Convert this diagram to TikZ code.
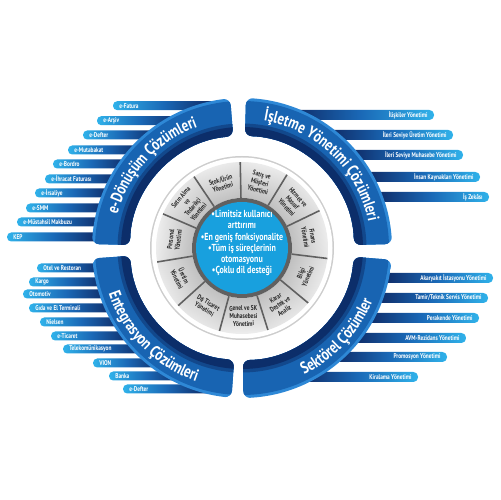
\documentclass[tikz,border=0pt]{standalone}
\usepackage{fontspec}
\setmainfont{PT Sans}[FakeStretch=0.78]
\usetikzlibrary{decorations.text}
\definecolor{barcyan}{RGB}{48,178,234}
\definecolor{barmid}{RGB}{26,104,182}
\definecolor{barnavy}{RGB}{14,38,96}
\definecolor{bandside}{RGB}{12,46,106}
\definecolor{bandmid}{RGB}{18,72,140}
\definecolor{bandface}{RGB}{24,100,178}
\definecolor{bandtop}{RGB}{46,136,214}
\definecolor{coreblue}{RGB}{24,160,222}
\definecolor{ringdark}{RGB}{96,96,96}
\definecolor{segtext}{RGB}{40,40,40}
\definecolor{seglight}{RGB}{240,240,240}
\definecolor{segdark}{RGB}{188,188,188}
\definecolor{rimgray}{RGB}{205,205,205}
\tikzset{
  lbar/.style={left color=barcyan, right color=barnavy, middle color=barmid, rounded corners=2.4pt},
  rbar/.style={left color=barnavy, right color=barcyan, middle color=barmid, rounded corners=2.6pt},
  bartext/.style={text=white, font=\bfseries\fontsize{3.9}{4}\selectfont, inner sep=0pt},
  segtxt/.style={text=segtext, font=\bfseries\fontsize{4}{4.4}\selectfont, align=center, inner sep=0pt},
  coretxt/.style={text=white, font=\bfseries\fontsize{5.8}{6.3}\selectfont, align=center, inner sep=0pt},
  bandtxt/.style={decorate, decoration={text along path, text align=center, text color=white, text={|\bfseries\fontsize{9.5}{10}\selectfont|#1}}},
  segfill/.style={top color=seglight, bottom color=segdark},
  sepline/.style={draw=ringdark, line width=0.9pt},
}
\newcommand\LB[5]{%
  \path[lbar] (#3,#2-4.5) rectangle (#4,#2+4.5);
  \node[bartext, anchor=west] (#1) at (#3+6,#2) {#5};}
\newcommand\RB[5]{%
  \path[rbar] (#3,#2-5) rectangle (#4,#2+5);
  \node[bartext, anchor=east] (#1) at (#4-6,#2) {#5};}
\begin{document}
\begin{tikzpicture}[x=0.02cm,y=0.02cm]
\useasboundingbox (0,0) rectangle (500,500);
\begin{scope}[shift={(0,500)}, yscale=-1]
\LB{fat}{105.7}{113}{215}{e-Fatura}
\LB{ars}{120.7}{97}{184}{e-Arşiv}
\LB{def}{135}{83}{159}{e-Defter}
\LB{mut}{150}{68}{142}{e-Mutabakat}
\LB{bor}{164}{53}{130}{e-Bordro}
\LB{ihr}{179}{45}{120}{e-İhracat Faturası}
\LB{irs}{193}{35}{113}{e-İrsaliye}
\LB{smm}{208}{26}{108}{e-SMM}
\LB{mus}{222}{17}{104}{e-Müstahsil Makbuzu}
\LB{kep}{237}{7}{102}{KEP}
\LB{otel}{268}{37}{103}{Otel ve Restoran}
\LB{kargo}{282}{29}{106}{Kargo}
\LB{oto}{294}{23}{110}{Otomotiv}
\LB{gida}{308}{29}{115}{Gıda ve El Terminali}
\LB{niel}{322}{40}{123}{Nielsen}
\LB{etic}{336}{51}{133}{e-Ticaret}
\LB{tel}{349}{63}{145}{Telekomünikasyon}
\LB{vion}{363}{93}{162}{VION}
\LB{banka}{376}{109}{185}{Banka}
\LB{edef}{389}{123}{210}{e-Defter}
\RB{ilis}{115}{286}{434}{İlişkiler Yönetimi}
\RB{uret}{135}{325}{453}{İleri Seviye Üretim Yönetimi}
\RB{muh}{155}{347}{463}{İleri Seviye Muhasebe Yönetimi}
\RB{ik}{177}{363}{480}{İnsan Kaynakları Yönetimi}
\RB{iz}{197}{372}{489}{İş Zekâsı}
\RB{akar}{278}{379}{493}{Akaryakıt İstasyonu Yönetimi}
\RB{tamir}{298}{373}{488}{Tamir/Teknik Servis Yönetimi}
\RB{per}{318}{363}{479}{Perakende Yönetimi}
\RB{avm}{338}{349}{466}{AVM-Rezidans Yönetimi}
\RB{prom}{357}{330}{447}{Promosyon Yönetimi}
\RB{kir}{377}{296}{418}{Kiralama Yönetimi}
\end{scope}
\begin{scope}[shift={(242,252)}]
\foreach \a/\b in {1.5/88.5, 94.5/178.5, 184/266, 270.5/355.5}{
  \begin{scope}
   \clip[rounded corners=4pt] (\a:112) arc[start angle=\a,end angle=\b,radius=112] -- (\b:150) arc[start angle=\b,end angle=\a,radius=150] -- cycle;
   \fill[bandtop] (0,0) circle (150);
   \fill[bandface] (0,0) circle (147);
   \fill[bandmid] (0,0) circle (124.5);
   \fill[bandside] (0,0) circle (121);
  \end{scope}
}
\path[bandtxt={e-Dönüşüm Çözümleri}] (177:129) arc[start angle=177,end angle=98,radius=129];
\path[bandtxt={İşletme Yönetimi Çözümleri}] (87:129) arc[start angle=87,end angle=5,radius=129];
\path[bandtxt={Entegrasyon Çözümleri}] (186:141) arc[start angle=186,end angle=264,radius=141];
\path[bandtxt={Sektörel Çözümler}] (276:141) arc[start angle=276,end angle=358,radius=141];
\fill[rimgray] (0,0) circle (92);
\fill[white] (0,0) circle (90.5);
\foreach \k in {0,...,10}{
  \pgfmathsetmacro\aA{-7+\k*32.72727}
  \pgfmathsetmacro\aB{\aA+32.72727}
  \pgfmathsetmacro\sA{\aA+16.3636-90}
  \path[segfill, shading angle=\sA] (\aA:50) arc[start angle=\aA,end angle=\aB,radius=50] -- (\aB:86) arc[start angle=\aB,end angle=\aA,radius=86] -- cycle;
}
\foreach \k in {0,...,10}{
  \pgfmathsetmacro\aA{-7+\k*32.72727}
  \draw[sepline] (\aA:50) -- (\aA:86);
}
\fill[ringdark] (0,0) circle (50);
\fill[coreblue] (0,0) circle (46);
\node[segtxt, rotate=-80.6] (s0) at (9.4:68) {Finans\\Yönetimi};
\node[segtxt, rotate=-47.9] (s1) at (42.1:68) {Hizmet ve\\Masraf\\Yönetimi};
\node[segtxt, rotate=-15.2] (s2) at (74.8:68) {Satış ve\\Müşteri\\Yönetimi};
\node[segtxt, rotate=17.5] (s3) at (107.5:68) {Stok/Ürün\\Yönetimi};
\node[segtxt, rotate=50.3] (s4) at (140.3:68) {Satın Alma\\ve\\Tedarikçi\\Yönetimi};
\node[segtxt, rotate=83] (s5) at (173:68) {Personel\\Yönetimi};
\node[segtxt, rotate=-64.3] (s6) at (205.7:68) {Üretim\\Yönetimi};
\node[segtxt, rotate=-31.5] (s7) at (238.5:68) {Dış Ticaret\\Yönetimi};
\node[segtxt, rotate=1.2] (s8) at (271.2:68) {Genel ve SK\\Muhasebesi\\Yönetimi};
\node[segtxt, rotate=33.9] (s9) at (303.9:68) {Karar\\Destek ve\\Analiz};
\node[segtxt, rotate=66.7] (s10) at (336.7:68) {Bilgi\\Yönetimi};
\node[coretxt] (core) at (0,5) {\textbullet Limitsiz kullanıcı\\arttırımı\\\textbullet En geniş fonksiyonalite\\\textbullet Tüm iş süreçlerinin\\otomasyonu\\\textbullet Çoklu dil desteği};
\end{scope}
\end{tikzpicture}
\end{document}
